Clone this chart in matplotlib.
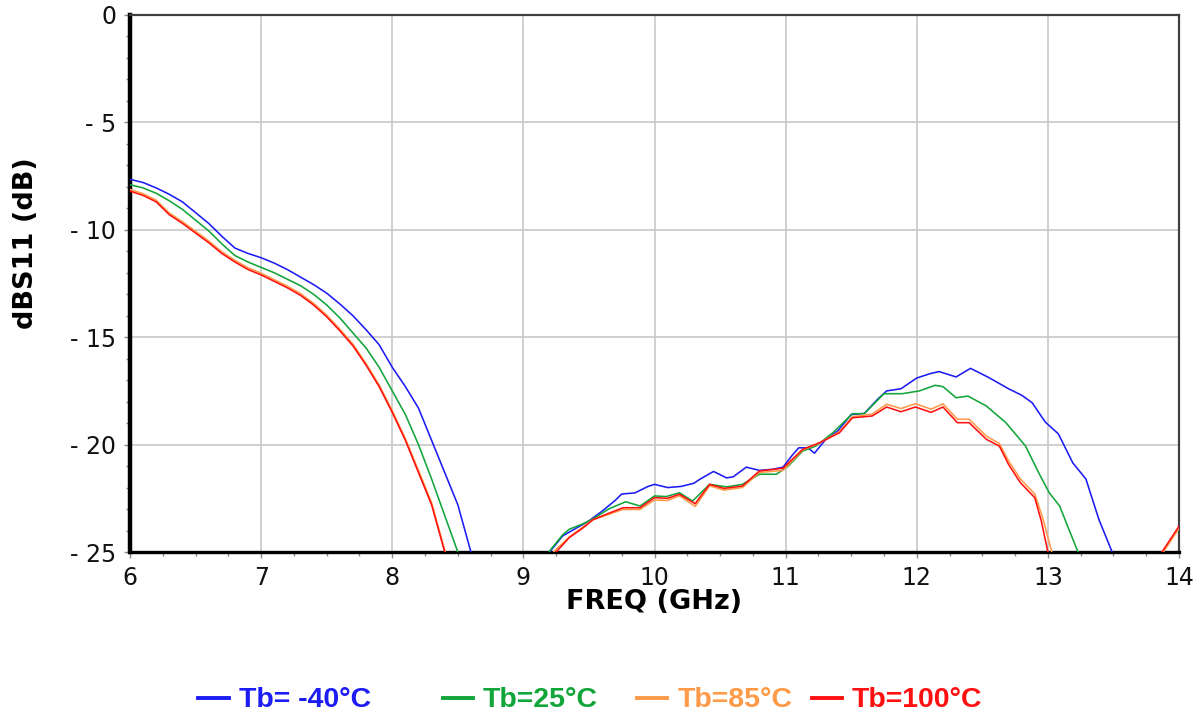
import matplotlib
matplotlib.use("Agg")
import matplotlib.pyplot as plt
from matplotlib.lines import Line2D
from matplotlib.ticker import MultipleLocator, FixedLocator, FixedFormatter

# ---------------- data ----------------
freq_blue = [6.0, 6.1, 6.2, 6.3, 6.4, 6.5, 6.6, 6.7, 6.8, 6.9, 7.0, 7.1, 7.2, 7.3, 7.4,
             7.5, 7.6, 7.7, 7.8, 7.9, 8.0, 8.1, 8.2, 8.3, 8.4, 8.5, 8.6, 8.7,
             9.1, 9.2, 9.3, 9.4, 9.5, 9.6, 9.7, 9.75, 9.85, 9.95, 10.0, 10.1, 10.2,
             10.3, 10.35, 10.45, 10.55, 10.6, 10.7, 10.8, 10.9, 10.98, 11.05, 11.1,
             11.17, 11.22, 11.3, 11.4, 11.5, 11.6, 11.7, 11.77, 11.88, 12.0, 12.1,
             12.17, 12.3, 12.41, 12.55, 12.7, 12.8, 12.88, 12.98, 13.08, 13.19,
             13.29, 13.39, 13.49, 13.6]
s11_blue = [-7.65, -7.8, -8.05, -8.35, -8.7, -9.2, -9.7, -10.3, -10.85, -11.1, -11.3,
            -11.55, -11.85, -12.2, -12.55, -12.95, -13.45, -14.0, -14.65, -15.35,
            -16.4, -17.3, -18.3, -19.8, -21.3, -22.8, -25.0, -28.0,
            -27.0, -25.0, -24.25, -23.9, -23.55, -23.1, -22.6, -22.3, -22.25, -21.95,
            -21.85, -22.0, -21.95, -21.8, -21.6, -21.25, -21.55, -21.5, -21.05, -21.2,
            -21.15, -21.05, -20.5, -20.15, -20.15, -20.4, -19.8, -19.35, -18.6,
            -18.55, -17.9, -17.5, -17.4, -16.9, -16.7, -16.6, -16.85, -16.45,
            -16.88, -17.4, -17.7, -18.05, -18.95, -19.5, -20.85, -21.6, -23.5,
            -25.0, -28.0]

freq_green = [6.0, 6.1, 6.2, 6.3, 6.4, 6.5, 6.6, 6.7, 6.8, 6.9, 7.0, 7.1, 7.2, 7.3, 7.4,
              7.5, 7.6, 7.7, 7.8, 7.9, 8.0, 8.1, 8.2, 8.3, 8.4, 8.5, 8.6,
              9.1, 9.2, 9.3, 9.35, 9.45, 9.53, 9.65, 9.78, 9.89, 10.0, 10.09, 10.19,
              10.29, 10.42, 10.55, 10.67, 10.8, 10.93, 11.02, 11.13, 11.23, 11.36,
              11.51, 11.6, 11.75, 11.89, 12.02, 12.14, 12.2, 12.3, 12.39, 12.53,
              12.68, 12.83, 12.93, 13.01, 13.09, 13.15, 13.23, 13.35]
s11_green = [-7.9, -8.05, -8.3, -8.65, -9.05, -9.55, -10.05, -10.65, -11.2, -11.5,
             -11.75, -12.0, -12.3, -12.6, -13.0, -13.5, -14.1, -14.8, -15.5, -16.4,
             -17.5, -18.6, -20.0, -21.6, -23.3, -25.0, -28.0,
             -27.0, -24.95, -24.2, -23.94, -23.7, -23.46, -23.0, -22.66, -22.86,
             -22.39, -22.42, -22.24, -22.63, -21.85, -21.97, -21.85, -21.38, -21.38,
             -21.0, -20.3, -20.07, -19.45, -18.56, -18.56, -17.63, -17.63, -17.5,
             -17.24, -17.3, -17.82, -17.74, -18.2, -18.98, -20.07, -21.31, -22.24,
             -22.86, -23.79, -25.0, -28.0]

freq_orange = [6.0, 6.1, 6.2, 6.3, 6.4, 6.5, 6.6, 6.7, 6.8, 6.9, 7.0, 7.1, 7.2, 7.3,
               7.4, 7.5, 7.6, 7.7, 7.8, 7.9, 8.0, 8.1, 8.2, 8.3, 8.4, 8.5,
               9.1, 9.23, 9.35, 9.45, 9.53, 9.65, 9.76, 9.89, 10.0, 10.1, 10.19,
               10.31, 10.42, 10.53, 10.67, 10.8, 10.98, 11.13, 11.26, 11.41, 11.51,
               11.66, 11.77, 11.88, 11.99, 12.11, 12.2, 12.31, 12.4, 12.53, 12.63,
               12.7, 12.79, 12.9, 12.96, 13.03, 13.1, 13.8, 13.87, 14.0]
s11_orange = [-8.12, -8.32, -8.62, -9.22, -9.62, -10.07, -10.52, -11.02, -11.42, -11.77,
              -12.02, -12.32, -12.62, -12.97, -13.42, -13.97, -14.62, -15.32, -16.22,
              -17.22, -18.42, -19.72, -21.2, -22.7, -24.9, -28.0,
              -27.5, -25.0, -24.3, -23.85, -23.5, -23.25, -23.02, -23.02, -22.58,
              -22.6, -22.38, -22.88, -21.92, -22.12, -22.0, -21.3, -21.2, -20.25,
              -19.92, -19.4, -18.7, -18.58, -18.12, -18.32, -18.1, -18.35, -18.1,
              -18.82, -18.82, -19.6, -19.95, -20.75, -21.6, -22.3, -23.4, -25.0,
              -27.5, -27.5, -25.1, -23.9]

freq_red = [6.0, 6.1, 6.2, 6.3, 6.4, 6.5, 6.6, 6.7, 6.8, 6.9, 7.0, 7.1, 7.2, 7.3, 7.4,
            7.5, 7.6, 7.7, 7.8, 7.9, 8.0, 8.1, 8.2, 8.3, 8.4, 8.5,
            9.1, 9.25, 9.35, 9.45, 9.53, 9.65, 9.76, 9.89, 10.0, 10.1, 10.19, 10.31,
            10.42, 10.53, 10.67, 10.8, 10.98, 11.13, 11.26, 11.41, 11.51, 11.66,
            11.77, 11.88, 11.99, 12.11, 12.2, 12.31, 12.4, 12.53, 12.63, 12.7,
            12.79, 12.9, 12.95, 13.0, 13.1, 13.8, 13.87, 14.0]
s11_red = [-8.2, -8.4, -8.7, -9.3, -9.7, -10.15, -10.6, -11.1, -11.5, -11.85, -12.1,
           -12.4, -12.7, -13.05, -13.5, -14.05, -14.7, -15.4, -16.3, -17.3, -18.5,
           -19.8, -21.3, -22.8, -25.0, -28.0,
           -27.5, -25.0, -24.33, -23.9, -23.5, -23.2, -22.94, -22.94, -22.47, -22.5,
           -22.31, -22.75, -21.85, -22.04, -21.93, -21.23, -21.1, -20.22, -19.91,
           -19.45, -18.75, -18.67, -18.25, -18.47, -18.25, -18.5, -18.25, -18.98,
           -18.98, -19.75, -20.07, -20.92, -21.77, -22.47, -23.56, -25.0, -27.5,
           -27.5, -25.0, -23.8]

series_labels = ["Tb= -40°C", "Tb=25°C", "Tb=85°C", "Tb=100°C"]
series_colors = ["#1c1cf4", "#12a53a", "#ff9a48", "#ff1010"]

x_ticks = [6, 7, 8, 9, 10, 11, 12, 13, 14]
x_ticklabels = ["6", "7", "8", "9", "10", "11", "12", "13", "14"]
y_ticks = [-25, -20, -15, -10, -5, 0]
y_ticklabels = ["- 25", "- 20", "- 15", "- 10", "- 5", "0"]

# ---------------- figure ----------------
W, H = 1203, 713
fig = plt.figure(figsize=(W / 100, H / 100), dpi=100)
ax = fig.add_axes([130 / W, 1 - 552 / H, (1179 - 130) / W, (552 - 15) / H])

xs = [freq_blue, freq_green, freq_orange, freq_red]
ys = [s11_blue, s11_green, s11_orange, s11_red]
for x, y, c in zip(xs, ys, series_colors):
    ax.plot(x, y, color=c, lw=1.15, solid_joinstyle="round", zorder=3)

ax.set_xlim(6, 14)
ax.set_ylim(-25, 0)

ax.xaxis.set_major_locator(FixedLocator(x_ticks))
ax.xaxis.set_major_formatter(FixedFormatter(x_ticklabels))
ax.xaxis.set_minor_locator(MultipleLocator(0.25))
ax.yaxis.set_major_locator(FixedLocator(y_ticks))
ax.yaxis.set_major_formatter(FixedFormatter(y_ticklabels))
ax.yaxis.set_minor_locator(MultipleLocator(1))

ax.grid(True, which="major", color="#c8c8c8", lw=1.2, zorder=0)
ax.set_axisbelow(True)

for lab in ax.get_xticklabels() + ax.get_yticklabels():
    lab.set_fontfamily("DejaVu Sans")
    lab.set_fontsize(17)
ax.tick_params(axis="both", which="major", direction="out", length=4, width=1,
               color="#8a8a8a", labelcolor="#111111")
ax.tick_params(axis="x", which="major", pad=6)
ax.tick_params(axis="y", which="major", pad=6)
ax.tick_params(axis="both", which="minor", direction="out", length=3, width=1,
               color="#8a8a8a")

ax.spines["left"].set_linewidth(3.2)
ax.spines["left"].set_color("black")
ax.spines["bottom"].set_linewidth(2.4)
ax.spines["bottom"].set_color("black")
for s in ("top", "right"):
    ax.spines[s].set_linewidth(1.6)
    ax.spines[s].set_color("#404040")

ax.set_xlabel("FREQ (GHz)", fontfamily="DejaVu Sans", fontweight="bold", fontsize=19.5)
ax.xaxis.set_label_coords(0.5, (552 - 602) / 537)
ax.xaxis.label.set_va("center")
ax.set_ylabel("dBS11 (dB)", fontfamily="DejaVu Sans", fontweight="bold", fontsize=19.5)
ax.yaxis.set_label_coords((26 - 130) / 1049, (552 - 243) / 537)
ax.yaxis.label.set_va("center")

# ---------------- legend (below the plot) ----------------
legend_line_x = [(198, 229), (443, 473), (637, 667), (812, 842)]
legend_text_x = [239, 483, 678, 852]
for (x0, x1), tx, lab, c in zip(legend_line_x, legend_text_x, series_labels, series_colors):
    fig.add_artist(Line2D([x0 / W, x1 / W], [1 - 698 / H, 1 - 698 / H],
                          transform=fig.transFigure, color=c, lw=2.8))
    fig.text(tx / W, 1 - 707 / H, lab, color=c, fontfamily="Liberation Sans",
             fontweight="bold", fontsize=20.5, ha="left", va="baseline")

fig.savefig("out.png", dpi=100)
